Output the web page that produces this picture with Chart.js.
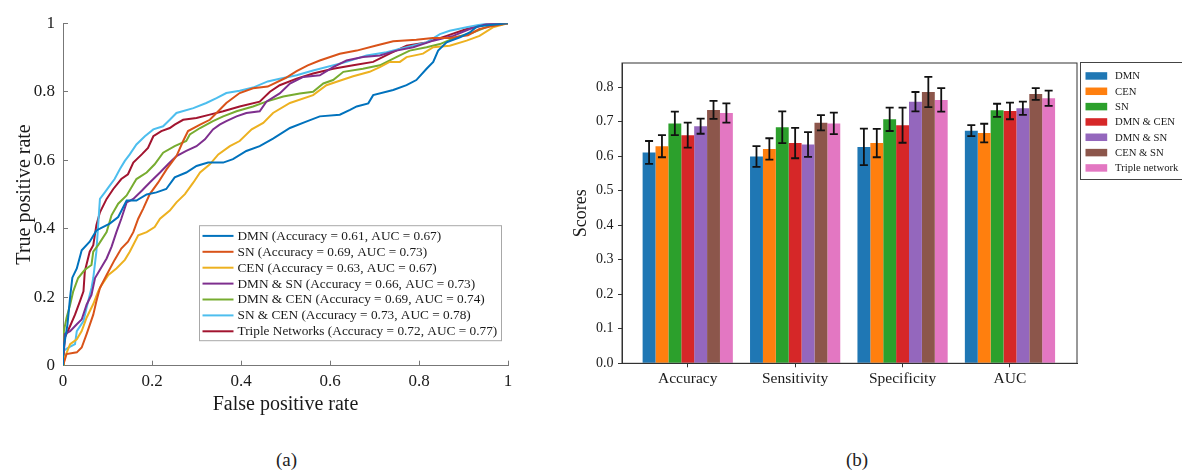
<!DOCTYPE html>
<html>
<head>
<meta charset="utf-8">
<script src="https://cdn.jsdelivr.net/npm/chart.js@4.4.1/dist/chart.umd.min.js"></script>
<style>
  body { margin: 0; background: #fff; width: 1182px; height: 471px; position: relative; overflow: hidden; font-family: 'Liberation Serif', 'Times New Roman', serif; }
  #rocBox { position: absolute; left: 0; top: 0; width: 560px; height: 420px; }
  #barBox { position: absolute; left: 560px; top: 0; width: 622px; height: 420px; }
  .cap { position: absolute; top: 450px; font-size: 19px; line-height: 1; color: #222; }
</style>
</head>
<body>
<div id="rocBox"><canvas id="roc"></canvas></div>
<div id="barBox"><canvas id="bars"></canvas></div>
<div class="cap" style="left:276px">(a)</div>
<div class="cap" style="left:846px">(b)</div>
<script>
// ---- (a) ROC curves: [false positive rate, true positive rate] ----
const rocNames = ['DMN', 'SN', 'CEN', 'DMN & SN', 'DMN & CEN', 'SN & CEN', 'Triple Networks'];
const rocAcc = [0.61, 0.69, 0.63, 0.66, 0.69, 0.73, 0.72];
const rocAuc = [0.67, 0.73, 0.67, 0.73, 0.74, 0.78, 0.77];
const rocColors = ['#0072BD', '#D95319', '#EDB120', '#7E2F8E', '#77AC30', '#4DBEEE', '#A2142F'];

const rocDMN = [[0,0],[0,0.04],[0.01,0.12],[0.016,0.2],[0.021,0.257],[0.031,0.284],[0.042,0.337],[0.06,0.362],[0.075,0.395],[0.083,0.40],[0.105,0.415],[0.124,0.434],[0.143,0.482],[0.165,0.482],[0.188,0.50],[0.21,0.506],[0.232,0.516],[0.251,0.55],[0.277,0.564],[0.30,0.583],[0.326,0.593],[0.36,0.593],[0.382,0.603],[0.412,0.627],[0.442,0.641],[0.472,0.663],[0.51,0.694],[0.545,0.712],[0.577,0.728],[0.622,0.733],[0.645,0.747],[0.66,0.757],[0.686,0.766],[0.697,0.79],[0.742,0.805],[0.772,0.819],[0.794,0.834],[0.817,0.867],[0.832,0.887],[0.843,0.92],[0.862,0.944],[0.892,0.959],[0.914,0.973],[0.93,0.99],[0.96,0.995],[1,1]];
const rocSN = [[0,0],[0.008,0.034],[0.031,0.039],[0.042,0.053],[0.053,0.092],[0.068,0.149],[0.075,0.188],[0.083,0.227],[0.098,0.265],[0.116,0.309],[0.131,0.342],[0.146,0.362],[0.158,0.39],[0.169,0.429],[0.18,0.458],[0.195,0.501],[0.214,0.535],[0.233,0.574],[0.255,0.612],[0.27,0.656],[0.281,0.685],[0.308,0.704],[0.33,0.718],[0.345,0.738],[0.367,0.767],[0.397,0.796],[0.427,0.81],[0.46,0.815],[0.5,0.84],[0.525,0.86],[0.55,0.877],[0.577,0.891],[0.622,0.911],[0.66,0.92],[0.704,0.935],[0.742,0.947],[0.794,0.952],[0.831,0.957],[0.87,0.957],[0.91,0.965],[0.936,0.983],[0.96,0.99],[1,1]];
const rocCEN = [[0,0],[0.004,0.024],[0.016,0.063],[0.031,0.077],[0.042,0.101],[0.053,0.14],[0.068,0.18],[0.079,0.217],[0.087,0.236],[0.102,0.265],[0.12,0.284],[0.139,0.309],[0.15,0.333],[0.169,0.381],[0.188,0.39],[0.206,0.405],[0.218,0.429],[0.24,0.453],[0.255,0.477],[0.274,0.501],[0.293,0.535],[0.308,0.564],[0.33,0.588],[0.349,0.617],[0.375,0.641],[0.397,0.656],[0.424,0.69],[0.45,0.709],[0.472,0.738],[0.51,0.767],[0.562,0.79],[0.592,0.819],[0.615,0.829],[0.652,0.845],[0.689,0.858],[0.712,0.872],[0.734,0.887],[0.757,0.887],[0.772,0.901],[0.809,0.911],[0.832,0.93],[0.869,0.934],[0.907,0.949],[0.936,0.963],[0.966,0.988],[1,1]];
const rocDMNSN = [[0,0],[0.004,0.092],[0.016,0.101],[0.031,0.121],[0.042,0.135],[0.053,0.178],[0.064,0.207],[0.072,0.256],[0.083,0.28],[0.098,0.313],[0.109,0.347],[0.12,0.39],[0.131,0.429],[0.143,0.477],[0.158,0.487],[0.177,0.511],[0.195,0.535],[0.218,0.564],[0.236,0.588],[0.255,0.612],[0.277,0.627],[0.30,0.641],[0.319,0.661],[0.337,0.69],[0.352,0.704],[0.367,0.714],[0.39,0.728],[0.412,0.738],[0.442,0.743],[0.457,0.771],[0.487,0.795],[0.51,0.824],[0.54,0.843],[0.577,0.848],[0.607,0.872],[0.637,0.891],[0.674,0.901],[0.712,0.906],[0.749,0.92],[0.787,0.93],[0.832,0.949],[0.877,0.963],[0.914,0.983],[0.951,0.997],[1,1]];
const rocDMNCEN = [[0,0],[0.002,0.101],[0.008,0.14],[0.016,0.178],[0.023,0.217],[0.034,0.256],[0.049,0.28],[0.064,0.294],[0.068,0.333],[0.079,0.352],[0.098,0.39],[0.109,0.439],[0.124,0.473],[0.143,0.497],[0.165,0.545],[0.188,0.564],[0.206,0.588],[0.225,0.622],[0.251,0.641],[0.277,0.656],[0.285,0.675],[0.308,0.694],[0.337,0.714],[0.36,0.728],[0.39,0.743],[0.427,0.757],[0.457,0.771],[0.495,0.786],[0.532,0.795],[0.562,0.80],[0.585,0.824],[0.607,0.834],[0.63,0.858],[0.674,0.867],[0.712,0.877],[0.749,0.901],[0.779,0.92],[0.817,0.93],[0.847,0.939],[0.884,0.959],[0.921,0.973],[0.959,0.992],[1,1]];
const rocSNCEN = [[0,0],[0.001,0.043],[0.012,0.053],[0.027,0.063],[0.031,0.101],[0.046,0.13],[0.053,0.169],[0.064,0.227],[0.068,0.256],[0.075,0.333],[0.083,0.487],[0.094,0.506],[0.105,0.526],[0.116,0.545],[0.128,0.574],[0.139,0.598],[0.15,0.617],[0.165,0.646],[0.184,0.67],[0.203,0.69],[0.225,0.699],[0.24,0.718],[0.255,0.738],[0.293,0.752],[0.322,0.767],[0.345,0.781],[0.367,0.796],[0.397,0.803],[0.427,0.812],[0.46,0.83],[0.487,0.838],[0.525,0.848],[0.562,0.862],[0.637,0.887],[0.682,0.906],[0.727,0.915],[0.772,0.93],[0.817,0.944],[0.847,0.968],[0.869,0.978],[0.907,0.988],[0.951,0.999],[1,1]];
const rocTriple = [[0,0],[0.004,0.082],[0.016,0.116],[0.027,0.149],[0.038,0.188],[0.046,0.217],[0.049,0.275],[0.06,0.333],[0.068,0.352],[0.075,0.41],[0.083,0.448],[0.098,0.487],[0.113,0.516],[0.131,0.545],[0.146,0.559],[0.158,0.593],[0.177,0.617],[0.191,0.636],[0.203,0.67],[0.221,0.685],[0.24,0.694],[0.251,0.704],[0.27,0.718],[0.30,0.723],[0.33,0.733],[0.36,0.743],[0.397,0.757],[0.442,0.771],[0.465,0.80],[0.487,0.819],[0.525,0.838],[0.562,0.853],[0.607,0.867],[0.652,0.877],[0.697,0.887],[0.734,0.911],[0.772,0.934],[0.817,0.944],[0.862,0.963],[0.907,0.983],[0.944,0.995],[0.981,1],[1,1]];
const rocCurves = [rocDMN, rocSN, rocCEN, rocDMNSN, rocDMNCEN, rocSNCEN, rocTriple];

// ---- (b) scores per metric ----
const metrics = ['Accuracy', 'Sensitivity', 'Specificity', 'AUC'];
const models = ['DMN', 'CEN', 'SN', 'DMN & CEN', 'DMN & SN', 'CEN & SN', 'Triple network'];
const barColors = ['#1f77b4', '#ff7f0e', '#2ca02c', '#d62728', '#9467bd', '#8c564b', '#e377c2'];
const meanDMN = [0.611, 0.599, 0.627, 0.674];
const meanCEN = [0.629, 0.621, 0.638, 0.667];
const meanSN = [0.695, 0.684, 0.707, 0.733];
const meanDMNCEN = [0.661, 0.638, 0.690, 0.731];
const meanDMNSN = [0.687, 0.634, 0.758, 0.739];
const meanCENSN = [0.734, 0.697, 0.786, 0.780];
const meanTriple = [0.725, 0.695, 0.763, 0.768];
const errDMN = [0.033, 0.030, 0.053, 0.016];
const errCEN = [0.032, 0.031, 0.041, 0.027];
const errSN = [0.034, 0.046, 0.034, 0.019];
const errDMNCEN = [0.036, 0.044, 0.051, 0.024];
const errDMNSN = [0.022, 0.036, 0.028, 0.019];
const errCENSN = [0.026, 0.022, 0.044, 0.017];
const errTriple = [0.028, 0.031, 0.034, 0.022];
const barMeans = [meanDMN, meanCEN, meanSN, meanDMNCEN, meanDMNSN, meanCENSN, meanTriple];
const barErrs = [errDMN, errCEN, errSN, errDMNCEN, errDMNSN, errCENSN, errTriple];

const serif = "'Liberation Serif', 'Times New Roman', serif";
Chart.defaults.font.family = serif;
Chart.defaults.color = '#1a1a1a';
Chart.defaults.animation = false;

// legend box inside the ROC axes, like the MATLAB one
const rocLegend = {
  id: 'rocLegend',
  afterDraw(chart) {
    const ctx = chart.ctx;
    const a = chart.chartArea;
    const x0 = a.left + 136.5, y0 = a.top + 202.5, w = 302, h = 115;
    ctx.save();
    ctx.fillStyle = '#fff';
    ctx.fillRect(x0, y0, w, h);
    ctx.strokeStyle = '#a8a8a8';
    ctx.lineWidth = 1;
    ctx.strokeRect(x0, y0, w, h);
    ctx.font = '13.3px ' + serif;
    ctx.textBaseline = 'middle';
    chart.data.datasets.forEach((ds, i) => {
      const y = y0 + 10.2 + i * 15.9;
      ctx.strokeStyle = ds.borderColor;
      ctx.lineWidth = 2;
      ctx.beginPath();
      ctx.moveTo(x0 + 3, y);
      ctx.lineTo(x0 + 34, y);
      ctx.stroke();
      ctx.fillStyle = '#1a1a1a';
      ctx.fillText(ds.label, x0 + 38, y + 0.5);
    });
    ctx.restore();
  }
};

new Chart(document.getElementById('roc'), {
  type: 'scatter',
  data: {
    datasets: rocCurves.map((pts, i) => ({
      label: `${rocNames[i]} (Accuracy = ${rocAcc[i].toFixed(2)}, AUC = ${rocAuc[i].toFixed(2)})`,
      data: pts.map(p => ({ x: p[0], y: p[1] })),
      showLine: true,
      borderColor: rocColors[i],
      borderWidth: 2,
      pointRadius: 0,
      tension: 0
    }))
  },
  options: {
    responsive: true,
    maintainAspectRatio: false,
    layout: { padding: { left: 0, top: 19, right: 52, bottom: 0 } },
    plugins: { legend: { display: false }, tooltip: { enabled: false } },
    scales: {
      x: {
        type: 'linear', min: 0, max: 1,
        afterFit: s => { s.height = 54.3; },
        ticks: { stepSize: 0.2, font: { size: 17 }, padding: 11,
          callback: v => (v === 0 || v === 1) ? String(v) : v.toFixed(1) },
        grid: { drawOnChartArea: false, tickLength: -5, color: '#777' },
        border: { color: '#777' },
        title: { display: true, text: 'False positive rate', font: { size: 20 }, padding: { top: 0, bottom: 3 } }
      },
      y: {
        type: 'linear', min: 0, max: 1,
        afterFit: s => { s.width = 63; },
        ticks: { stepSize: 0.2, font: { size: 17 }, padding: 13,
          callback: v => (v === 0 || v === 1) ? String(v) : v.toFixed(1) },
        grid: { drawOnChartArea: false, tickLength: -5, color: '#777' },
        border: { color: '#777' },
        title: { display: true, text: 'True positive rate', font: { size: 20 }, padding: { top: 13, bottom: 0 } }
      }
    }
  },
  plugins: [rocLegend]
});

// error bars drawn on top of each bar from the dataset's errors
const errorBars = {
  id: 'errorBars',
  afterDatasetsDraw(chart) {
    const ctx = chart.ctx;
    const y = chart.scales.y;
    ctx.save();
    ctx.strokeStyle = '#111';
    ctx.lineWidth = 1.8;
    chart.data.datasets.forEach((ds, i) => {
      chart.getDatasetMeta(i).data.forEach((bar, j) => {
        const m = ds.data[j].y, e = ds.errors[j];
        const top = y.getPixelForValue(m + e), bot = y.getPixelForValue(m - e);
        ctx.beginPath();
        ctx.moveTo(bar.x, top); ctx.lineTo(bar.x, bot);
        ctx.moveTo(bar.x - 4, top); ctx.lineTo(bar.x + 4, top);
        ctx.moveTo(bar.x - 4, bot); ctx.lineTo(bar.x + 4, bot);
        ctx.stroke();
      });
    });
    ctx.restore();
  }
};

// full axes frame and the legend outside on the right
const barFrame = {
  id: 'barFrame',
  afterDraw(chart) {
    const ctx = chart.ctx;
    const a = chart.chartArea;
    ctx.save();
    ctx.strokeStyle = '#333';
    ctx.lineWidth = 1;
    ctx.strokeRect(a.left, a.top, a.right - a.left, a.bottom - a.top);
    const lx = a.right + 3.5, ly = a.top - 0.5;
    ctx.strokeStyle = '#444';
    ctx.strokeRect(lx, ly, chart.width - lx + 5, 117);
    ctx.font = '10.7px ' + serif;
    ctx.textBaseline = 'middle';
    chart.data.datasets.forEach((ds, i) => {
      const yy = ly + 13.5 + i * 15.33;
      ctx.fillStyle = ds.backgroundColor;
      ctx.fillRect(lx + 5, yy - 3.8, 21.7, 7.5);
      ctx.fillStyle = '#1a1a1a';
      ctx.fillText(ds.label, lx + 34.5, yy + 0.5);
    });
    ctx.restore();
  }
};

new Chart(document.getElementById('bars'), {
  type: 'bar',
  data: {
    datasets: models.map((name, i) => ({
      label: name,
      data: metrics.map((_, k) => ({ x: k, y: barMeans[i][k] })),
      errors: barErrs[i],
      backgroundColor: barColors[i],
      borderWidth: 0,
      categoryPercentage: 0.84,
      barPercentage: 1.0
    }))
  },
  options: {
    responsive: true,
    maintainAspectRatio: false,
    layout: { padding: { left: 0, top: 63, right: 105, bottom: 0 } },
    plugins: { legend: { display: false }, tooltip: { enabled: false } },
    scales: {
      x: {
        type: 'linear', min: -0.612, max: 3.624, offset: false,
        afterFit: s => { s.height = 56.7; },
        afterBuildTicks: s => { s.ticks = metrics.map((_, k) => ({ value: k })); },
        ticks: { font: { size: 15.5 }, padding: 2, autoSkip: false, maxRotation: 0,
          callback: v => metrics[v] },
        grid: { drawOnChartArea: false, offset: false, tickLength: 4, color: '#333' },
        border: { color: '#333' }
      },
      y: {
        min: 0, max: 0.87,
        afterFit: s => { s.width = 62; },
        ticks: { stepSize: 0.1, includeBounds: false, font: { size: 14 }, padding: 4.5,
          callback: v => v.toFixed(1) },
        grid: { drawOnChartArea: false, tickLength: 4, color: '#333' },
        border: { color: '#333' },
        title: { display: true, text: 'Scores', font: { size: 18 }, padding: { top: 10, bottom: 0 } }
      }
    }
  },
  plugins: [errorBars, barFrame]
});
</script>
</body>
</html>
